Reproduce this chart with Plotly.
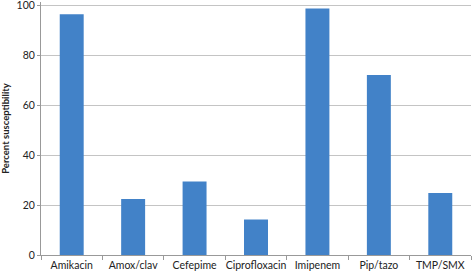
import plotly.graph_objects as go

categories = ["Amikacin", "Amox/clav", "Cefepime", "Ciprofloxacin", "Imipenem", "Pip/tazo", "TMP/SMX"]
values = [96.3, 22.4, 29.4, 14.2, 98.6, 72.0, 24.8]
y_ticks = [0, 20, 40, 60, 80, 100]

fig = go.Figure(go.Bar(
    x=categories, y=values,
    marker=dict(color="#4282c8", line=dict(width=0)),
    hoverinfo="skip",
))

fig.update_layout(
    width=472, height=275,
    margin=dict(l=41, r=1, t=2, b=20, autoexpand=False),
    paper_bgcolor="white", plot_bgcolor="white",
    bargap=0.61,
    font=dict(family="Lato, 'Open Sans', sans-serif", size=10, color="#222"),
    showlegend=False,
)
fig.update_xaxes(
    type="category", tickson="boundaries", ticks="outside", ticklen=4,
    tickcolor="#999", showline=True, linecolor="#999", linewidth=1,
    showgrid=False, tickfont=dict(size=10.5), tickangle=0, automargin=False,
)
fig.update_yaxes(
    range=[0, 101.2], tickvals=y_ticks, ticklabeloverflow="allow",
    showgrid=True, gridcolor="#c4c4c4",
    showline=True, linecolor="#999", linewidth=1, ticks="outside", ticklen=3,
    tickcolor="#999", zeroline=False, automargin=False,
    title=dict(text="<b>Percent susceptibility</b>", font=dict(size=9.5), standoff=9),
    tickfont=dict(size=10.5),
)

fig.write_html("out.html", config={"displayModeBar": False},
               post_script="document.body.style.margin='0';document.body.style.overflow='hidden';")
